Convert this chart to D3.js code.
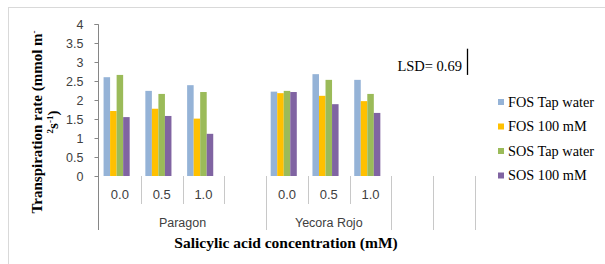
<!DOCTYPE html>
<html>
<head>
<script src="https://cdn.jsdelivr.net/npm/d3@7"></script>
<style>
  body { margin: 0; background: #fff; }
</style>
</head>
<body>
<script>

var categories = ["0.0", "0.5", "1.0", "", "0.0", "0.5", "1.0", "", ""];
var groups = ["Paragon", "Paragon", "Paragon", "Paragon", "Yecora Rojo", "Yecora Rojo", "Yecora Rojo", "blank1", "blank2"];
var groupNames = {"Paragon": "Paragon", "Yecora Rojo": "Yecora Rojo", "blank1": "", "blank2": ""};

var seriesNames = ["FOS Tap water", "FOS 100 mM", "SOS Tap water", "SOS 100 mM"];
var fosTap   = [2.60, 2.24, 2.39, null, 2.22, 2.68, 2.53, null, null];
var fos100   = [1.71, 1.77, 1.51, null, 2.18, 2.11, 1.97, null, null];
var sosTap   = [2.66, 2.16, 2.21, null, 2.24, 2.53, 2.16, null, null];
var sos100   = [1.55, 1.58, 1.11, null, 2.21, 1.89, 1.66, null, null];
var seriesColors = ["#95b3d7", "#ffc000", "#9bbb59", "#8064a2"];

var yTicks = [0, 0.5, 1, 1.5, 2, 2.5, 3, 3.5, 4];
var lsd = 0.69;
var lsdBase = 2.66;

var W = 605, H = 264;
var svg = d3.select("body").append("svg").attr("width", W).attr("height", H);

// chart frame (cropped on right/bottom)
svg.append("rect").attr("x", 8.5).attr("y", 7.5).attr("width", 700).attr("height", 400)
   .attr("fill", "none").attr("stroke", "#d9d9d9").attr("stroke-width", 1);

var slots = d3.range(categories.length);
var x0 = d3.scaleBand().domain(slots).range([99, 475]).padding(0);
var x1 = d3.scaleBand().domain(seriesNames.concat(["(none)"])).range([0, x0.bandwidth()])
   .paddingInner(0).paddingOuter(0.7);
var y = d3.scaleLinear().domain([0, 4]).range([176, 24]);

var allSeries = [fosTap, fos100, sosTap, sos100];

// bars
allSeries.forEach(function(vals, si) {
  svg.append("g").selectAll("rect")
    .data(vals.map(function(v, i) { return {i: i, v: v}; }).filter(function(d) { return d.v != null; }))
    .enter().append("rect")
    .attr("x", function(d) { return x0(d.i) + x1(seriesNames[si]); })
    .attr("width", x1.bandwidth())
    .attr("y", function(d) { return y(d.v); })
    .attr("height", function(d) { return y(0) - y(d.v); })
    .attr("fill", seriesColors[si]);
});

// y axis
var yAxis = d3.axisLeft(y).tickValues(yTicks).tickSize(4).tickPadding(11)
   .tickFormat(function(d) { return String(d); });
var gy = svg.append("g").attr("transform", "translate(98.5,0)").call(yAxis);
gy.select(".domain").attr("stroke", "#868686").attr("d", "M-4,24.5H0V230");
gy.selectAll(".tick line").attr("stroke", "#868686");
gy.selectAll(".tick text").attr("fill", "#404040").style("font-family", "Liberation Sans, Arial, sans-serif").style("font-size", "12.5px");

// category separators
slots.forEach(function(i) {
  if (i == 0) return;
  var longSep = groups[i] != groups[i - 1];
  svg.append("line")
    .attr("x1", Math.round(x0(i)) + 0.5).attr("x2", Math.round(x0(i)) + 0.5)
    .attr("y1", 176).attr("y2", longSep ? 230 : 204)
    .attr("stroke", "#c8c8c8");
});
svg.append("line")
  .attr("x1", Math.round(x0.range()[1]) + 0.5).attr("x2", Math.round(x0.range()[1]) + 0.5)
  .attr("y1", 176).attr("y2", 230).attr("stroke", "#c8c8c8");

// category labels
svg.append("g").selectAll("text").data(slots).enter().append("text")
  .attr("x", function(i) { return x0(i) + x0.bandwidth() / 2; })
  .attr("y", 198.5)
  .attr("text-anchor", "middle")
  .attr("fill", "#404040")
  .style("font-family", "Liberation Sans, Arial, sans-serif").style("font-size", "13px")
  .text(function(i) { return categories[i]; });

// group labels
var groupKeys = Array.from(new Set(groups));
svg.append("g").selectAll("text").data(groupKeys).enter().append("text")
  .attr("x", function(g) {
    var idx = slots.filter(function(i) { return groups[i] == g; });
    return (x0(idx[0]) + x0(idx[idx.length - 1]) + x0.bandwidth()) / 2;
  })
  .attr("y", 227)
  .attr("text-anchor", "middle")
  .attr("fill", "#404040")
  .style("font-family", "Liberation Sans, Arial, sans-serif").style("font-size", "12.5px")
  .text(function(g) { return groupNames[g]; });

// x title
svg.append("text").attr("x", 286).attr("y", 248).attr("text-anchor", "middle")
  .style("font-family", "Liberation Serif, Times New Roman, serif").style("font-size", "15.5px")
  .style("font-weight", "bold")
  .text("Salicylic acid concentration (mM)");

// y title (two lines)
var yt = svg.append("text").attr("transform", "translate(42,122) rotate(-90)")
  .attr("text-anchor", "middle")
  .style("font-family", "Liberation Serif, Times New Roman, serif").style("font-size", "15px")
  .style("font-weight", "bold");
yt.append("tspan").text("Transpiration rate (mmol m");
yt.append("tspan").attr("dy", -5).style("font-size", "9px").text("-");
var yt2 = svg.append("text").attr("transform", "translate(58,122) rotate(-90)")
  .attr("text-anchor", "middle")
  .style("font-family", "Liberation Serif, Times New Roman, serif").style("font-size", "15px")
  .style("font-weight", "bold");
yt2.append("tspan").attr("dy", -5).style("font-size", "9px").text("2");
yt2.append("tspan").attr("dy", 5).text("s");
yt2.append("tspan").attr("dy", -5).style("font-size", "9px").text("-1");
yt2.append("tspan").attr("dy", 5).text(")");

// LSD bar
var lsdX = 467.5;
svg.append("line").attr("x1", lsdX).attr("x2", lsdX)
  .attr("y1", y(lsdBase)).attr("y2", y(lsdBase + lsd))
  .attr("stroke", "#000").attr("stroke-width", 1.3);
svg.append("text").attr("x", 462).attr("y", 70.5).attr("text-anchor", "end")
  .style("font-family", "Liberation Serif, Times New Roman, serif").style("font-size", "14.5px")
  .text("LSD= " + lsd);

// legend
var leg = svg.append("g").selectAll("g").data(seriesNames).enter().append("g")
  .attr("transform", function(d, i) { return "translate(498," + (102 + i * 24.5) + ")"; });
leg.append("rect").attr("x", 0).attr("y", -3).attr("width", 6).attr("height", 6)
  .attr("fill", function(d, i) { return seriesColors[i]; });
leg.append("text").attr("x", 10).attr("y", 4.5)
  .style("font-family", "Liberation Serif, Times New Roman, serif").style("font-size", "14.3px")
  .text(function(d) { return d; });

</script>
</body>
</html>
